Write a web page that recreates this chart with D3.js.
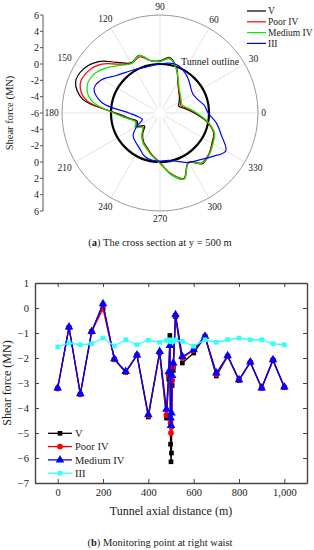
<!DOCTYPE html>
<html>
<head>
<meta charset="utf-8">
<script src="https://cdn.jsdelivr.net/npm/d3@7"></script>
<style>
	body{margin:0;background:#fff;}
	svg text{font-family:"Liberation Serif","Times New Roman",serif;fill:#1a1a1a;}
</style>
</head>
<body>
<svg id="chart" width="314" height="550"></svg>
<script>
// (a) cross section at y = 500 m : shear force (MN) around the ring
var angles = [0,10,20,30,40,50,60,70,80,90,100,110,120,130,140,150,160,170,180,190,200,210,220,230,240,250,260,270,280,290,300,310,320,330,340,350];
var shearV        = [-1.8,-2.9,-3.55,-3.3,-2.9,-2.45,-1.6,-0.1,0.9,0.4,0.5,1.5,1.1,2.1,3.8,4.8,5.0,3.6,-0.6,-2.2,-3.05,-2.8,-3.55,-2.7,-1.95,-1.45,-0.7,0.1,1.6,2.6,1.0,2.1,1.85,1.35,1.0,-0.25];
var shearPoorIV   = [-1.6,-2.7,-3.3,-3.1,-2.8,-2.4,-1.6,-0.2,0.75,0.3,0.5,1.3,1.0,1.8,3.3,4.2,4.4,3.2,-0.45,-2.1,-2.9,-2.6,-3.3,-2.6,-1.9,-1.4,-0.7,0.1,1.5,2.5,0.95,1.95,1.8,1.4,1.0,-0.2];
var shearMediumIV = [-1.5,-2.5,-3.1,-3.0,-2.7,-2.3,-1.5,-0.2,0.8,0.3,0.5,1.5,1.0,1.6,2.6,3.4,3.5,2.5,-0.3,-2.0,-2.8,-2.5,-3.2,-2.5,-1.8,-1.3,-0.6,0.2,1.6,2.6,1.05,2.0,1.9,1.5,1.1,-0.1];
var shearIII      = [-0.1,-0.5,-1.1,-1.35,-1.1,-0.6,-0.12,0.25,0.2,0.0,-0.1,-0.1,0.15,0.5,1.1,2.2,2.6,1.2,-2.2,-3.3,-3.7,-2.7,-1.7,-1.35,-1.0,-0.4,-0.15,-0.1,-0.1,0.3,1.0,1.5,2.3,3.3,2.0,1.0];
var radialTicks = [-6,-4,-2,0,2,4,6];
var angleTicks = [0,30,60,90,120,150,180,210,240,270,300,330];

// (b) monitoring point at right waist
var distance   = [0,50,100,150,200,250,300,350,400,450,480,490,495,498,500,502,505,510,520,550,600,650,700,750,800,850,900,950,1000];
var waistV        = [-3.22,-0.78,-3.45,-0.95,0.12,-2.05,-2.58,-1.9,-4.36,-1.8,-4.4,-2.85,-1.1,-5.45,-6.15,-5.8,-3.1,-2.5,-0.35,-2.2,-1.8,-1.15,-2.72,-1.93,-2.9,-2.18,-3.2,-2.1,-3.18];
var waistPoorIV   = [-3.22,-0.78,-3.45,-0.95,-0.03,-2.05,-2.57,-1.88,-4.3,-1.78,-4.28,-2.7,-1.3,-4.6,-5.0,-4.75,-2.9,-2.35,-0.3,-2.0,-1.68,-1.13,-2.65,-1.92,-2.87,-2.17,-3.2,-2.08,-3.17];
var waistMediumIV = [-3.2,-0.76,-3.43,-0.94,0.17,-2.04,-2.54,-1.88,-4.27,-1.74,-4.05,-2.55,-1.5,-4.4,-4.7,-4.2,-2.7,-2.2,-0.27,-1.94,-1.67,-1.13,-2.6,-1.91,-2.87,-2.16,-3.2,-2.07,-3.16];
var waistIII      = [-1.56,-1.4,-1.47,-1.43,-1.2,-1.52,-1.27,-1.47,-1.29,-1.37,-1.3,-1.32,-1.28,-1.33,-1.3,-1.35,-1.3,-1.33,-1.28,-1.33,-1.53,-1.27,-1.37,-1.27,-1.2,-1.27,-1.27,-1.43,-1.47];
var xTicks = [0,200,400,600,800,1000];
var yTicks = [1,0,-1,-2,-3,-4,-5,-6,-7];

var svg = d3.select("#chart");
svg.append("rect").attr("width",314).attr("height",550).attr("fill","#fff");

//POLAR PLOT
var cx = 160, cy = 113, R = 98;
var r = d3.scaleLinear().domain([-6,6]).range([0,R]);
var rad = function(a){return a*Math.PI/180};
var px = function(a,v){return cx + r(v)*Math.cos(rad(a))};
var py = function(a,v){return cy - r(v)*Math.sin(rad(a))};

var polar = svg.append("g");

polar.selectAll("line.spoke").data(angleTicks).enter().append("line")
	.attr("x1",function(d){return cx + 5*Math.cos(rad(d))})
	.attr("y1",function(d){return cy - 5*Math.sin(rad(d))})
	.attr("x2",function(d){return px(d,6)})
	.attr("y2",function(d){return py(d,6)})
	.attr("stroke","#e2e2e2").attr("stroke-width",1);

polar.append("circle").attr("cx",cx).attr("cy",cy).attr("r",r(6))
	.attr("fill","none").attr("stroke","#9a9a9a").attr("stroke-width",1);

var labR = function(d){
	var w = String(d).length*5;
	return R + 3 + (w/2)*Math.abs(Math.cos(rad(d))) + 5*Math.abs(Math.sin(rad(d)));
};
polar.selectAll("text.ang").data(angleTicks).enter().append("text")
	.attr("x",function(d){return cx + labR(d)*Math.cos(rad(d))})
	.attr("y",function(d){return cy - labR(d)*Math.sin(rad(d))})
	.attr("text-anchor","middle").attr("dominant-baseline","central")
	.style("font-size","9.5px").text(function(d){return d});

// radial axis on the left
var ax = 43;
polar.append("line").attr("x1",ax).attr("x2",ax).attr("y1",cy-R).attr("y2",cy+R)
	.attr("stroke","#555").attr("stroke-width",1);
var rtick = [];
radialTicks.forEach(function(v){
	rtick.push({v:v, y:cy - r(v)});
	if(v !== -6){rtick.push({v:v, y:cy + r(v)});}
});
polar.selectAll("line.rt").data(rtick).enter().append("line")
	.attr("x1",ax-3).attr("x2",ax).attr("y1",function(d){return d.y}).attr("y2",function(d){return d.y})
	.attr("stroke","#555");
polar.selectAll("text.rt").data(rtick).enter().append("text")
	.attr("x",ax-4).attr("y",function(d){return d.y}).attr("dy","0.35em")
	.attr("text-anchor","end").style("font-size","10px")
	.text(function(d){return d.v});

polar.append("text").attr("transform","translate(13,"+cy+") rotate(-90)")
	.attr("text-anchor","middle").style("font-size","10.5px").text("Shear force (MN)");

// tunnel outline at 0 MN
polar.append("circle").attr("cx",cx).attr("cy",cy).attr("r",r(0))
	.attr("fill","none").attr("stroke","#000").attr("stroke-width",2.2);
polar.append("text").attr("x",181).attr("y",65).style("font-size","10px").text("Tunnel outline");

var polarSeries = [
	{name:"V", vals:shearV, color:"#000000"},
	{name:"Poor IV", vals:shearPoorIV, color:"#ff0000"},
	{name:"Medium IV", vals:shearMediumIV, color:"#00f000"},
	{name:"III", vals:shearIII, color:"#0000ff"}
];
var ring = d3.line().curve(d3.curveCatmullRomClosed.alpha(0.5))
	.x(function(d){return px(d.a,d.v)}).y(function(d){return py(d.a,d.v)});

polar.selectAll("path.ser").data(polarSeries).enter().append("path")
	.attr("d",function(s){return ring(angles.map(function(a,i){return {a:a,v:s.vals[i]}}))})
	.attr("fill","none").attr("stroke",function(s){return s.color}).attr("stroke-width",1.2);

var pleg = polar.selectAll("g.leg").data(polarSeries).enter().append("g")
	.attr("transform",function(d,i){return "translate(247,"+(11+i*10.8)+")"});
pleg.append("line").attr("x1",0).attr("x2",19).attr("stroke",function(d){return d.color}).attr("stroke-width",1.2);
pleg.append("text").attr("x",21).attr("dy","0.33em").style("font-size","9.5px").text(function(d){return d.name});

var capA = svg.append("text").attr("x",160).attr("y",246).attr("text-anchor","middle").style("font-size","10.5px");
capA.append("tspan").text("(");
capA.append("tspan").style("font-weight","bold").text("a");
capA.append("tspan").text(") The cross section at y = 500 m");

//LINE PLOT
var x = d3.scaleLinear().domain([-100,1100]).range([35,307]);
var y = d3.scaleLinear().domain([-7,1]).range([483,283]);
var fmt = function(d){return d < 0 ? "\u2212" + Math.abs(d) : String(d)};

var plot = svg.append("g");
var axCol = "#444";
var gB = plot.append("g").attr("transform","translate(0,483)")
	.call(d3.axisBottom(x).tickValues(xTicks).tickSizeInner(-4).tickSizeOuter(0).tickPadding(6));
var gT = plot.append("g").attr("transform","translate(0,283)")
	.call(d3.axisTop(x).tickValues(xTicks).tickSizeInner(-4).tickSizeOuter(0).tickFormat(""));
var gL = plot.append("g").attr("transform","translate(35,0)")
	.call(d3.axisLeft(y).tickValues(yTicks).tickSizeInner(-4).tickSizeOuter(0).tickPadding(6).tickFormat(fmt));
var gR = plot.append("g").attr("transform","translate(307,0)")
	.call(d3.axisRight(y).tickValues(yTicks).tickSizeInner(-4).tickSizeOuter(0).tickFormat(""));
[gB,gT,gL,gR].forEach(function(g){
	g.select(".domain").attr("stroke",axCol).attr("stroke-width",1.4);
	g.selectAll(".tick line").attr("stroke",axCol);
	g.selectAll("text").style("font-size","10.5px").style("font-family","'Liberation Serif',serif").attr("fill","#1a1a1a");
});

plot.append("text").attr("x",171).attr("y",515).attr("text-anchor","middle").style("font-size","12px").text("Tunnel axial distance (m)");
plot.append("text").attr("transform","translate(11,383) rotate(-90)").attr("text-anchor","middle").style("font-size","12px").text("Shear force (MN)");

var lineSeries = [
	{name:"V", vals:waistV, color:"#000000", sym:d3.symbolSquare, size:22},
	{name:"Poor IV", vals:waistPoorIV, color:"#ff0000", sym:d3.symbolCircle, size:26},
	{name:"Medium IV", vals:waistMediumIV, color:"#0000ff", sym:d3.symbolTriangle, size:32},
	{name:"III", vals:waistIII, color:"#33ffff", sym:d3.symbolSquare, size:22}
];
var ln = d3.line().x(function(d){return x(d[0])}).y(function(d){return y(d[1])});

var sg = plot.selectAll("g.ser").data(lineSeries).enter().append("g");
sg.append("path")
	.attr("d",function(s){return ln(distance.map(function(d,i){return [d,s.vals[i]]}))})
	.attr("fill","none").attr("stroke",function(s){return s.color}).attr("stroke-width",1.3);
sg.each(function(s){
	d3.select(this).selectAll("path.mk").data(distance.map(function(d,i){return [d,s.vals[i]]}))
		.enter().append("path")
		.attr("transform",function(d){return "translate("+x(d[0])+","+y(d[1])+")"})
		.attr("d",d3.symbol().type(s.sym).size(s.size))
		.attr("fill",s.color);
});

var bleg = plot.selectAll("g.bleg").data(lineSeries).enter().append("g")
	.attr("transform",function(d,i){return "translate(48,"+(433.3+i*13.3)+")"});
bleg.append("line").attr("x1",0).attr("x2",24).attr("stroke",function(d){return d.color}).attr("stroke-width",1.3);
bleg.append("path").attr("transform","translate(12,0)")
	.attr("d",function(d){return d3.symbol().type(d.sym).size(d.size)()})
	.attr("fill",function(d){return d.color});
bleg.append("text").attr("x",27).attr("dy","0.35em").style("font-size","10.5px").text(function(d){return d.name});

var capB = svg.append("text").attr("x",160).attr("y",546).attr("text-anchor","middle").style("font-size","10.5px");
capB.append("tspan").text("(");
capB.append("tspan").style("font-weight","bold").text("b");
capB.append("tspan").text(") Monitoring point at right waist");
</script>
</body>
</html>
